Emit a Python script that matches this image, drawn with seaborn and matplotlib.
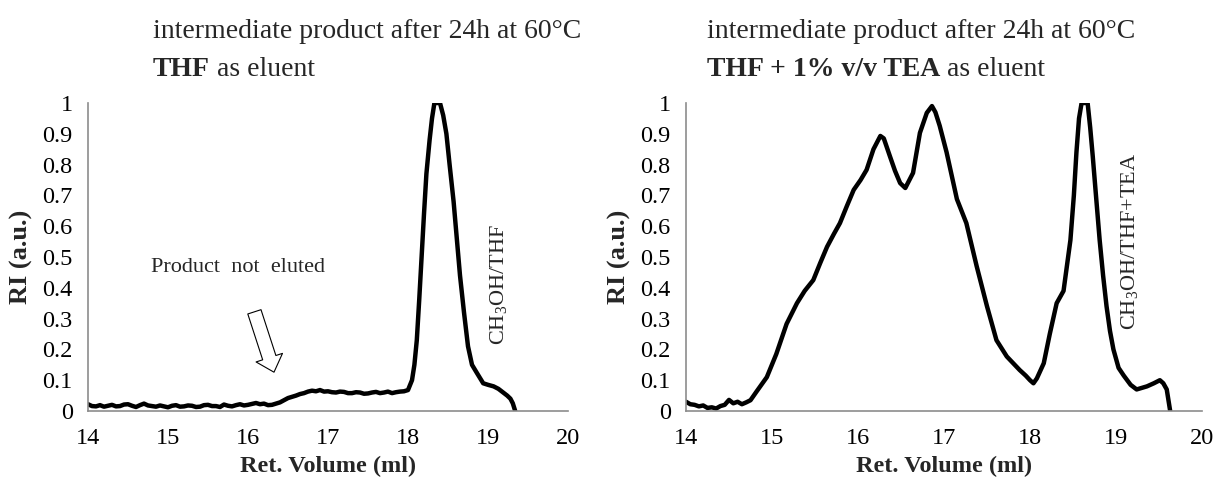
import matplotlib
matplotlib.use("Agg")
import matplotlib.pyplot as plt
import seaborn as sns
import pandas as pd

# ---------------- data ----------------
left_x = [14.0, 14.05, 14.1, 14.15, 14.2, 14.25, 14.3, 14.35, 14.4, 14.45, 14.5, 14.55, 14.6, 14.65,
          14.7, 14.75, 14.8, 14.85, 14.9, 14.95, 15.0, 15.05, 15.1, 15.15, 15.2, 15.25, 15.3, 15.35,
          15.4, 15.45, 15.5, 15.55, 15.6, 15.65, 15.7, 15.75, 15.8, 15.85, 15.9, 15.95, 16.0, 16.05,
          16.1, 16.15, 16.2, 16.25, 16.3, 16.35, 16.4, 16.45, 16.5, 16.55, 16.6, 16.65, 16.7, 16.75,
          16.8, 16.85, 16.9, 16.95, 17.0, 17.05, 17.1, 17.15, 17.2, 17.25, 17.3, 17.35, 17.4, 17.45,
          17.5, 17.55, 17.6, 17.65, 17.7, 17.75, 17.8, 17.85, 17.9, 17.95, 18.0, 18.05, 18.08, 18.11,
          18.14, 18.17, 18.20, 18.23, 18.27, 18.30, 18.33, 18.40, 18.44, 18.48, 18.52, 18.57, 18.61,
          18.65, 18.70, 18.75, 18.80, 18.86, 18.94, 19.0, 19.07, 19.13, 19.19, 19.24, 19.28, 19.31,
          19.34]
left_y = [0.022, 0.016, 0.015, 0.019, 0.014, 0.017, 0.020, 0.015, 0.016, 0.021, 0.022, 0.017, 0.013,
          0.019, 0.024, 0.018, 0.016, 0.014, 0.018, 0.015, 0.012, 0.017, 0.019, 0.014, 0.015, 0.018,
          0.017, 0.013, 0.014, 0.019, 0.020, 0.016, 0.016, 0.013, 0.021, 0.017, 0.015, 0.019, 0.022,
          0.018, 0.020, 0.023, 0.026, 0.022, 0.024, 0.019, 0.020, 0.024, 0.028, 0.035, 0.042, 0.046,
          0.050, 0.055, 0.058, 0.063, 0.066, 0.064, 0.068, 0.063, 0.064, 0.061, 0.060, 0.063, 0.062,
          0.058, 0.058, 0.061, 0.060, 0.056, 0.057, 0.060, 0.062, 0.058, 0.060, 0.063, 0.058, 0.061,
          0.063, 0.064, 0.068, 0.100, 0.150, 0.230, 0.360, 0.500, 0.640, 0.770, 0.880, 0.950, 1.000,
          1.000, 0.960, 0.900, 0.800, 0.680, 0.560, 0.440, 0.320, 0.210, 0.150, 0.124, 0.090, 0.085,
          0.080, 0.072, 0.060, 0.050, 0.040, 0.025, 0.000]

right_x = [14.0, 14.05, 14.1, 14.15, 14.2, 14.25, 14.3, 14.35, 14.4, 14.45, 14.5, 14.55, 14.6, 14.65,
           14.7, 14.75, 14.82, 14.94, 15.05, 15.17, 15.29, 15.38, 15.48, 15.56, 15.64, 15.72, 15.79,
           15.87, 15.95, 16.03, 16.10, 16.18, 16.26, 16.30, 16.37, 16.43, 16.49, 16.55, 16.64, 16.72,
           16.80, 16.86, 16.90, 16.95, 17.03, 17.15, 17.26, 17.38, 17.50, 17.61, 17.73, 17.88, 17.95,
           18.0, 18.04, 18.08, 18.16, 18.23, 18.31, 18.39, 18.47, 18.51, 18.54, 18.57, 18.60, 18.67,
           18.70, 18.73, 18.77, 18.81, 18.85, 18.89, 18.93, 18.97, 19.03, 19.09, 19.17, 19.24, 19.30,
           19.36, 19.44, 19.51, 19.55, 19.59, 19.63]
right_y = [0.030, 0.022, 0.020, 0.015, 0.018, 0.010, 0.012, 0.008, 0.016, 0.020, 0.036, 0.025, 0.030,
           0.022, 0.028, 0.035, 0.063, 0.110, 0.185, 0.283, 0.350, 0.390, 0.425, 0.480, 0.533, 0.575,
           0.610, 0.665, 0.718, 0.750, 0.783, 0.850, 0.893, 0.885, 0.828, 0.780, 0.740, 0.724, 0.773,
           0.903, 0.968, 0.990, 0.970, 0.926, 0.840, 0.688, 0.610, 0.470, 0.340, 0.230, 0.177, 0.133,
           0.115, 0.100, 0.090, 0.106, 0.155, 0.250, 0.350, 0.390, 0.555, 0.700, 0.840, 0.950, 1.000,
           1.000, 0.920, 0.826, 0.690, 0.555, 0.440, 0.340, 0.260, 0.200, 0.140, 0.115, 0.085, 0.070,
           0.075, 0.080, 0.090, 0.100, 0.090, 0.070, 0.000]

x_ticks = [14, 15, 16, 17, 18, 19, 20]
y_ticks = [0, 0.1, 0.2, 0.3, 0.4, 0.5, 0.6, 0.7, 0.8, 0.9, 1]
y_tick_labels = ["0", "0.1", "0.2", "0.3", "0.4", "0.5", "0.6", "0.7", "0.8", "0.9", "1"]

title_line1 = "intermediate product after 24h at 60°C"
left_bold = "THF"
right_bold = "THF + 1% v/v TEA"
title_rest = " as eluent"
left_peak_label = r"CH$_3$OH/THF"
right_peak_label = r"CH$_3$OH/THF+TEA"
note_text = "Product  not  eluted"

# ---------------- style ----------------
sns.set_style("white")
plt.rcParams["font.family"] = ["Liberation Serif", "DejaVu Serif"]
plt.rcParams["mathtext.fontset"] = "custom"
plt.rcParams["mathtext.rm"] = "Liberation Serif"
plt.rcParams["mathtext.it"] = "Liberation Serif:italic"
plt.rcParams["mathtext.bf"] = "Liberation Serif:bold"

W, H = 1215, 479
fig = plt.figure(figsize=(W / 100, H / 100), dpi=100)

gray = "#8c8c8c"
tick_fs = 17.5
xlabel_fs = 17.5
ylabel_fs = 19
title_fs = 20


def make_axes(left_px, right_px, df, peak_label, peak_xy):
    width = right_px - left_px
    ax = fig.add_axes([left_px / W, (H - 411) / H, width / W, 308 / H])
    sns.lineplot(data=df, x="x", y="y", ax=ax, color="black", linewidth=3.2,
                 estimator=None, sort=False)
    ax.set_xlim(14, 20)
    ax.set_ylim(0, 1)
    ax.set_xticks(x_ticks)
    ax.set_xticklabels([str(t) for t in x_ticks], fontsize=tick_fs)
    ax.set_yticks(y_ticks)
    ax.set_yticklabels(y_tick_labels, fontsize=tick_fs)
    for s in ["top", "right"]:
        ax.spines[s].set_visible(False)
    for s in ["left", "bottom"]:
        ax.spines[s].set_color(gray)
        ax.spines[s].set_linewidth(1.2)
    ax.tick_params(axis="both", direction="out", length=7, width=1.2, color=gray,
                   labelcolor="black", pad=4)
    ax.tick_params(axis="x", pad=5)
    ax.set_xlabel("Ret. Volume (ml)", fontsize=xlabel_fs, fontweight="bold")
    ax.set_ylabel("RI (a.u.)", fontsize=ylabel_fs, fontweight="bold")
    ax.xaxis.set_label_coords(0.5, (411 - 466) / 308)
    ax.yaxis.set_label_coords(-67 / width, 0.5)
    ax.xaxis.label.set_va("center")
    ax.yaxis.label.set_va("center")
    ax.text(peak_xy[0], peak_xy[1], peak_label, rotation=90, ha="center", va="center",
            fontsize=16)
    return ax


df_left = pd.DataFrame({"x": left_x, "y": left_y})
df_right = pd.DataFrame({"x": right_x, "y": right_y})

axL = make_axes(88, 568, df_left, left_peak_label, (19.13, 0.41))
axR = make_axes(686, 1202, df_right, right_peak_label, (19.16, 0.55))

# annotation "Product not eluted" with hollow arrow
axL.text(15.88, 0.465, note_text, ha="center", va="center", fontsize=16)
axL.annotate("", xy=(16.325, 0.126), xytext=(16.08, 0.322),
             arrowprops=dict(arrowstyle="simple,head_length=11,head_width=20,tail_width=10",
                             fc="white", ec="black", lw=0.8, shrinkA=0, shrinkB=0,
                             mutation_scale=1))

# titles
for tx, bold in [(153, left_bold), (707, right_bold)]:
    fig.text(tx / W, 1 - 31 / H, title_line1, ha="left", va="center", fontsize=title_fs)
    tb = fig.text(tx / W, 1 - 69 / H, bold, ha="left", va="center", fontsize=title_fs,
                  fontweight="bold")
    fig.canvas.draw()
    plt.annotate(title_rest, xy=(1, 0), xycoords=tb, ha="left", va="bottom",
                 fontsize=title_fs, annotation_clip=False)

fig.savefig("out.png", dpi=100)
